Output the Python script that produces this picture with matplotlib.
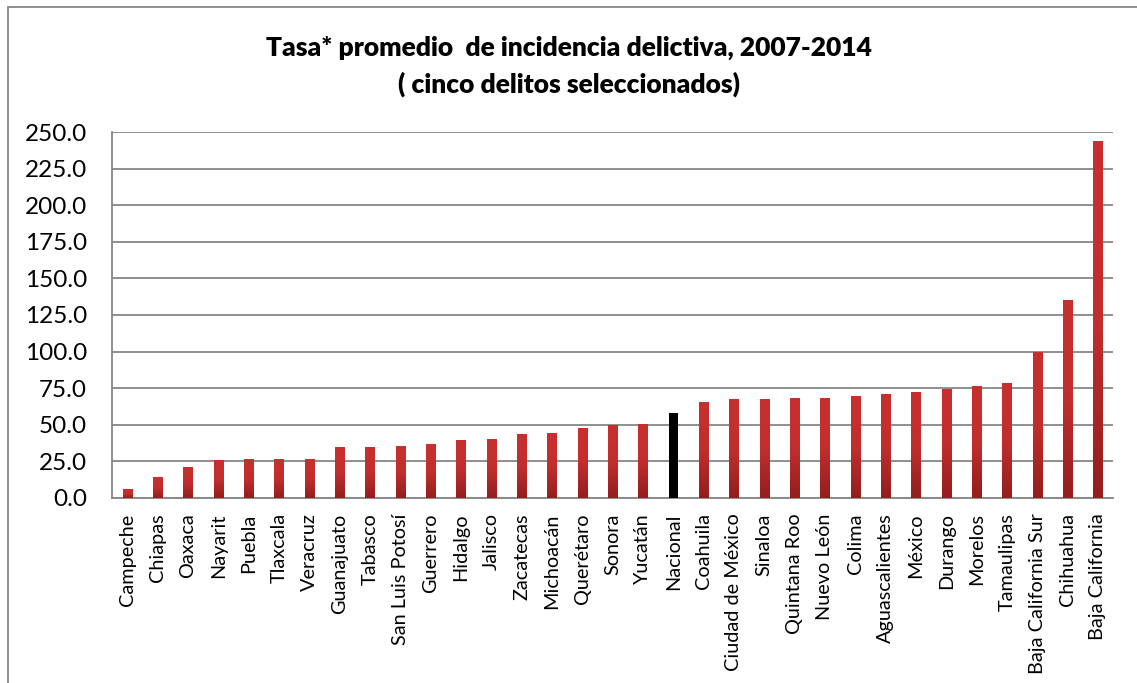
import numpy as np
import matplotlib
matplotlib.use("Agg")
import matplotlib.pyplot as plt
from matplotlib.colors import LinearSegmentedColormap
from matplotlib.patches import Rectangle

plt.rcParams['font.family'] = ['Lato', 'DejaVu Sans']

# Tasa promedio por entidad (cinco delitos seleccionados), 2007-2014
estados = ['Campeche', 'Chiapas', 'Oaxaca', 'Nayarit', 'Puebla', 'Tlaxcala',
           'Veracruz', 'Guanajuato', 'Tabasco', 'San Luis Potosí', 'Guerrero',
           'Hidalgo', 'Jalisco', 'Zacatecas', 'Michoacán', 'Querétaro',
           'Sonora', 'Yucatán', 'Nacional', 'Coahuila', 'Ciudad de México',
           'Sinaloa', 'Quintana Roo', 'Nuevo León', 'Colima', 'Aguascalientes',
           'México', 'Durango', 'Morelos', 'Tamaulipas', 'Baja California Sur',
           'Chihuahua', 'Baja California']
tasa = [6.1, 14.3, 20.5, 25.4, 26.3, 26.4, 26.6, 34.4, 34.4, 35.3, 36.3,
        39.1, 39.8, 43.2, 44.1, 47.5, 49.6, 50.0, 58.2, 65.0, 67.6,
        67.5, 67.9, 67.9, 69.0, 70.4, 72.4, 74.0, 76.5, 78.1, 99.7,
        134.6, 243.6]
yticks = np.arange(0, 251, 25)

fig = plt.figure(figsize=(11.37, 6.83), dpi=100)
ax = fig.add_axes([0.0985, 0.2709, 0.8805, 0.5358])

x = np.arange(len(estados))
colores = ['black' if e == 'Nacional' else '#b52a29' for e in estados]
bars = ax.bar(x, tasa, width=0.3, color=colores, zorder=3)

# degradado vertical en las barras rojas
grad = LinearSegmentedColormap.from_list('rojo', ['#941e1e', '#c22e2d', '#c8302f'])
g = np.linspace(0, 1, 100).reshape(-1, 1)
for b, e in zip(bars, estados):
    if e == 'Nacional':
        continue
    x0, w, h = b.get_x(), b.get_width(), b.get_height()
    ax.imshow(g, cmap=grad, origin='lower', aspect='auto',
              extent=[x0, x0 + w, 0, h], zorder=4)

ax.set_xlim(-0.5, len(estados) - 0.5)
ax.set_ylim(0, 250)
ax.set_yticks(yticks)
ax.set_yticklabels([f'{v:.1f}' for v in yticks], fontsize=17.5)
ax.set_xticks(x)
ax.set_xticklabels(estados, rotation=90, fontsize=14.3)
ax.tick_params(axis='y', length=0, pad=18)
ax.tick_params(axis='x', length=0, pad=11)

ax.grid(axis='y', color='#868686', linewidth=1.3, zorder=0)
for s in ['top', 'right']:
    ax.spines[s].set_visible(False)
for s in ['left', 'bottom']:
    ax.spines[s].set_color('#868686')
    ax.spines[s].set_linewidth(1.3)

fig.text(0.5, 0.930, 'Tasa* promedio  de incidencia delictiva, 2007-2014',
         ha='center', va='center', fontsize=19, fontweight='heavy')
fig.text(0.5, 0.876, '( cinco delitos seleccionados)',
         ha='center', va='center', fontsize=19, fontweight='heavy')

# marco del área del gráfico
fig.patches.append(Rectangle((8 / 1137, -0.1), 1.2, 1 - 7 / 683 + 0.1,
                             transform=fig.transFigure, fill=False,
                             edgecolor='#868686', linewidth=1.3))

fig.savefig('out.png', dpi=100)
